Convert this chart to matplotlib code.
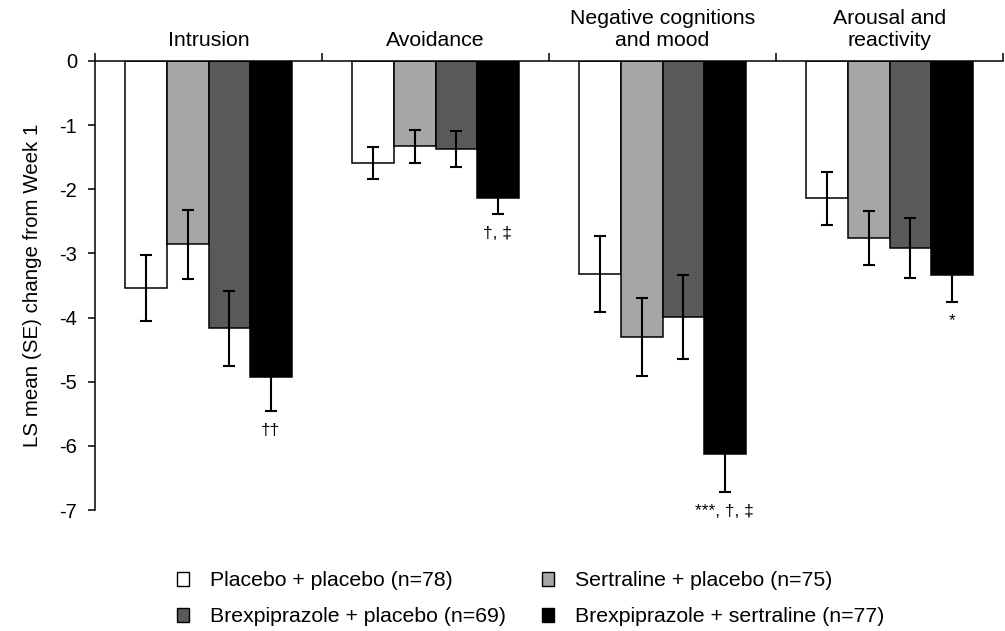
import matplotlib
matplotlib.use("Agg")
import matplotlib.pyplot as plt
import numpy as np
from matplotlib.patches import Patch

plt.rcParams["font.family"] = ["Liberation Sans", "DejaVu Sans"]
plt.rcParams["axes.unicode_minus"] = False

# 数据
domains = ["Intrusion", "Avoidance", "Negative cognitions\nand mood", "Arousal and\nreactivity"]
groups = [
    "Placebo + placebo (n=78)",
    "Sertraline + placebo (n=75)",
    "Brexpiprazole + placebo (n=69)",
    "Brexpiprazole + sertraline (n=77)",
]
colors = ["#ffffff", "#a6a6a6", "#595959", "#000000"]

ls_mean = [
    [-3.54, -1.59, -3.32, -2.14],   # placebo + placebo
    [-2.86, -1.33, -4.30, -2.76],   # sertraline + placebo
    [-4.17, -1.37, -3.99, -2.92],   # brexpiprazole + placebo
    [-4.93, -2.14, -6.12, -3.34],   # brexpiprazole + sertraline
]
ls_se = [
    [0.52, 0.25, 0.59, 0.41],
    [0.54, 0.26, 0.61, 0.42],
    [0.59, 0.28, 0.66, 0.47],
    [0.53, 0.25, 0.60, 0.41],
]
sig_labels = ["\u2020\u2020", "\u2020, \u2021", "***, \u2020, \u2021", "*"]

fig = plt.figure(figsize=(10.05, 6.31), dpi=100)
ax = fig.add_axes([95 / 1005, 1 - 510 / 631, 908 / 1005, 449 / 631])

centers = np.arange(len(domains)) + 0.5
width = 0.183
for k, (vals, errs, col) in enumerate(zip(ls_mean, ls_se, colors)):
    x = centers + (k - 1.5) * width
    ax.bar(x, vals, width, color=col, edgecolor="black", linewidth=1.1, zorder=2)
    ax.errorbar(x, vals, yerr=errs, fmt="none", ecolor="black", elinewidth=1.5,
                capsize=4.3, capthick=1.5, zorder=3)

# 显著性标记
for j, lab in enumerate(sig_labels):
    xb = centers[j] + 1.5 * width
    yb = ls_mean[3][j] - ls_se[3][j] - 0.3
    ax.text(xb, yb, lab, ha="center", va="center", fontsize=12.5)

ax.set_xlim(0, len(domains))
ax.set_ylim(-7, 0)
ax.set_yticks(np.arange(-7, 1))
ax.set_yticklabels([str(v) for v in range(-7, 1)])
ax.tick_params(axis="y", direction="out", length=5, width=1.1, labelsize=14.5, pad=8)

ax.xaxis.tick_top()
ax.set_xticks(np.arange(len(domains) + 1))
ax.set_xticklabels([])
ax.tick_params(axis="x", direction="out", length=6, width=1.1)
for c, name in zip(centers, domains):
    ax.text(c, 0.17, name, ha="center", va="bottom", fontsize=15.3, linespacing=1.2)

for s in ("bottom", "right"):
    ax.spines[s].set_visible(False)
for s in ("left", "top"):
    ax.spines[s].set_linewidth(1.1)

ax.set_ylabel("LS mean (SE) change from Week 1", fontsize=14.8, labelpad=12)

order = [0, 2, 1, 3]
handles = [Patch(facecolor=colors[i], edgecolor="black", linewidth=1.0) for i in order]
fig.legend(handles, [groups[i] for i in order], ncol=2, frameon=False,
           loc="lower center", bbox_to_anchor=(0.528, -0.023), fontsize=15.3,
           handlelength=0.55, handleheight=0.6, handletextpad=1.0,
           columnspacing=1.7, labelspacing=0.8)

fig.savefig("out.png", dpi=100)
